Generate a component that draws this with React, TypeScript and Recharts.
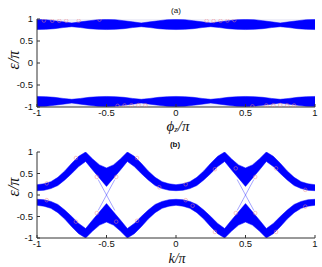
import React from 'react';
import { ComposedChart, Area, Line, Scatter, XAxis, YAxis } from 'recharts';

// ---------- panel (a): phi_z / pi ----------
const kA = [
  -1, -0.9375, -0.875, -0.8125, -0.75, -0.6875, -0.625, -0.5625,
  -0.5, -0.4375, -0.375, -0.3125, -0.25, -0.1875, -0.125, -0.0625,
  0, 0.0625, 0.125, 0.1875, 0.25, 0.3125, 0.375, 0.4375,
  0.5, 0.5625, 0.625, 0.6875, 0.75, 0.8125, 0.875, 0.9375, 1,
];
const aUpperHigh = [
  0.99, 0.985, 0.96, 0.935, 0.91, 0.935, 0.96, 0.985,
  0.99, 0.985, 0.96, 0.935, 0.91, 0.935, 0.96, 0.985,
  0.99, 0.985, 0.96, 0.935, 0.91, 0.935, 0.96, 0.985,
  0.99, 0.985, 0.96, 0.935, 0.91, 0.935, 0.96, 0.985, 0.99,
];
const aUpperLow = [
  0.76, 0.765, 0.78, 0.805, 0.825, 0.805, 0.78, 0.765,
  0.76, 0.765, 0.78, 0.805, 0.825, 0.805, 0.78, 0.765,
  0.76, 0.765, 0.78, 0.805, 0.825, 0.805, 0.78, 0.765,
  0.76, 0.765, 0.78, 0.805, 0.825, 0.805, 0.78, 0.765, 0.76,
];
const aLowerHigh = [
  -0.76, -0.765, -0.78, -0.805, -0.825, -0.805, -0.78, -0.765,
  -0.76, -0.765, -0.78, -0.805, -0.825, -0.805, -0.78, -0.765,
  -0.76, -0.765, -0.78, -0.805, -0.825, -0.805, -0.78, -0.765,
  -0.76, -0.765, -0.78, -0.805, -0.825, -0.805, -0.78, -0.765, -0.76,
];
const aLowerLow = [
  -0.99, -0.985, -0.96, -0.935, -0.91, -0.935, -0.96, -0.985,
  -0.99, -0.985, -0.96, -0.935, -0.91, -0.935, -0.96, -0.985,
  -0.99, -0.985, -0.96, -0.935, -0.91, -0.935, -0.96, -0.985,
  -0.99, -0.985, -0.96, -0.935, -0.91, -0.935, -0.96, -0.985, -0.99,
];
const aCircles = [
  { k: -0.95, e: 0.965 }, { k: -0.89, e: 0.96 }, { k: -0.84, e: 0.96 },
  { k: -0.79, e: 0.96 }, { k: -0.7, e: 0.96 }, { k: -0.55, e: 0.985 },
  { k: 0.22, e: 0.96 }, { k: 0.27, e: 0.955 }, { k: 0.32, e: 0.96 },
  { k: 0.37, e: 0.965 }, { k: 0.42, e: 0.975 },
  { k: -0.42, e: -0.975 }, { k: -0.37, e: -0.965 }, { k: -0.32, e: -0.96 },
  { k: -0.27, e: -0.955 }, { k: -0.22, e: -0.96 }, { k: 0.55, e: -0.985 },
  { k: 0.65, e: -0.965 }, { k: 0.7, e: -0.96 }, { k: 0.75, e: -0.955 },
  { k: 0.8, e: -0.96 }, { k: 0.85, e: -0.965 },
];

// ---------- panel (b): k / pi ----------
const kB = [
  -1, -0.95, -0.9, -0.85, -0.8, -0.75, -0.7, -0.65, -0.6, -0.55,
  -0.5, -0.45, -0.4, -0.35, -0.3, -0.25, -0.2, -0.15, -0.1, -0.05,
  0, 0.05, 0.1, 0.15, 0.2, 0.25, 0.3, 0.35, 0.4, 0.45,
  0.5, 0.55, 0.6, 0.65, 0.7, 0.75, 0.8, 0.85, 0.9, 0.95, 1,
];
const bUpperLow = [
  0.1, 0.11, 0.15, 0.22, 0.35, 0.5, 0.66, 0.78, 0.58, 0.39,
  0.2, 0.39, 0.58, 0.78, 0.66, 0.5, 0.35, 0.22, 0.15, 0.11,
  0.1, 0.11, 0.15, 0.22, 0.35, 0.5, 0.66, 0.78, 0.58, 0.39,
  0.2, 0.39, 0.58, 0.78, 0.66, 0.5, 0.35, 0.22, 0.15, 0.11, 0.1,
];
const bUpperHigh = [
  0.24, 0.26, 0.31, 0.41, 0.56, 0.74, 0.9, 1.0, 0.84, 0.7,
  0.63, 0.7, 0.84, 1.0, 0.9, 0.74, 0.56, 0.41, 0.31, 0.26,
  0.24, 0.26, 0.31, 0.41, 0.56, 0.74, 0.9, 1.0, 0.84, 0.7,
  0.63, 0.7, 0.84, 1.0, 0.9, 0.74, 0.56, 0.41, 0.31, 0.26, 0.24,
];
const bLowerHigh = [
  -0.1, -0.11, -0.15, -0.22, -0.35, -0.5, -0.66, -0.78, -0.58, -0.39,
  -0.2, -0.39, -0.58, -0.78, -0.66, -0.5, -0.35, -0.22, -0.15, -0.11,
  -0.1, -0.11, -0.15, -0.22, -0.35, -0.5, -0.66, -0.78, -0.58, -0.39,
  -0.2, -0.39, -0.58, -0.78, -0.66, -0.5, -0.35, -0.22, -0.15, -0.11, -0.1,
];
const bLowerLow = [
  -0.24, -0.26, -0.31, -0.41, -0.56, -0.74, -0.9, -1.0, -0.84, -0.7,
  -0.63, -0.7, -0.84, -1.0, -0.9, -0.74, -0.56, -0.41, -0.31, -0.26,
  -0.24, -0.26, -0.31, -0.41, -0.56, -0.74, -0.9, -1.0, -0.84, -0.7,
  -0.63, -0.7, -0.84, -1.0, -0.9, -0.74, -0.56, -0.41, -0.31, -0.26, -0.24,
];
const edgeA = [{ k: -0.56, e: 0.36 }, { k: -0.44, e: -0.36 }];
const edgeB = [{ k: -0.56, e: -0.36 }, { k: -0.44, e: 0.36 }];
const edgeC = [{ k: 0.44, e: 0.36 }, { k: 0.56, e: -0.36 }];
const edgeD = [{ k: 0.44, e: -0.36 }, { k: 0.56, e: 0.36 }];
const bCircles = [
  { k: -0.93, e: 0.27 }, { k: -0.72, e: 0.86 }, { k: -0.57, e: 0.42 },
  { k: -0.43, e: 0.42 }, { k: -0.28, e: 0.86 }, { k: -0.12, e: 0.18 },
  { k: 0.07, e: 0.25 }, { k: 0.28, e: 0.6 }, { k: 0.43, e: 0.62 },
  { k: 0.57, e: 0.42 }, { k: 0.72, e: 0.62 }, { k: 0.93, e: 0.12 },
  { k: -0.93, e: -0.12 }, { k: -0.72, e: -0.62 }, { k: -0.57, e: -0.42 },
  { k: -0.43, e: -0.62 }, { k: -0.28, e: -0.6 }, { k: 0.07, e: -0.12 },
  { k: 0.12, e: -0.25 }, { k: 0.28, e: -0.86 }, { k: 0.43, e: -0.42 },
  { k: 0.57, e: -0.42 }, { k: 0.72, e: -0.86 }, { k: 0.93, e: -0.27 },
];

const xTicks = [-1, -0.5, 0, 0.5, 1];
const yTicks = [-1, -0.5, 0, 0.5, 1];

const tableA = kA.map((k, i) => ({
  k,
  up: [aUpperLow[i], aUpperHigh[i]],
  dn: [aLowerLow[i], aLowerHigh[i]],
  hazeUp: [aUpperHigh[i], 1],
  hazeDn: [-1, aLowerLow[i]],
}));
const tableB = kB.map((k, i) => ({
  k,
  up: [bUpperLow[i], bUpperHigh[i]],
  dn: [bLowerLow[i], bLowerHigh[i]],
}));

const AX = '#333';
const tickStyle = { fontSize: 9.5, fill: '#111', fontFamily: 'Liberation Sans, Arial, sans-serif' };
const BLUE = '#0000ff';

const circleShape = (p: any) => (
  <circle cx={p.cx} cy={p.cy} r={1.8} fill="none" stroke="#f28a8a" strokeWidth={0.6} opacity={0.8} />
);

function Frame(xH: number) {
  return [
    <XAxis key="xb" xAxisId="b" dataKey="k" type="number" domain={[-1, 1]} ticks={xTicks} interval={0}
      allowDataOverflow tickSize={-3} tickMargin={5} height={xH} stroke={AX} tick={tickStyle} />,
    <XAxis key="xt" xAxisId="t" orientation="top" type="number" domain={[-1, 1]} ticks={xTicks} interval={0}
      allowDataOverflow tickSize={-3} height={0} stroke={AX} tick={false} />,
    <YAxis key="yl" yAxisId="l" type="number" domain={[-1, 1]} ticks={yTicks} interval={0}
      allowDataOverflow tickSize={-3} tickMargin={7} width={30} stroke={AX} tick={tickStyle} />,
    <YAxis key="yr" yAxisId="r" orientation="right" type="number" domain={[-1, 1]} ticks={yTicks} interval={0}
      allowDataOverflow tickSize={-3} width={0} stroke={AX} tick={false} />,
  ];
}

const serif = 'Liberation Serif, Times New Roman, serif';

export default function App() {
  return (
    <div style={{ position: 'absolute', left: 0, top: 0, width: 322, height: 267, background: '#fff' }}>
      <div style={{ position: 'absolute', left: 0, top: 0 }}>
        <ComposedChart width={322} height={130} data={tableA} margin={{ top: 19, right: 7, left: 7, bottom: 0 }}>
          {Frame(23)}
          <Area xAxisId="b" yAxisId="l" dataKey="hazeUp" type="linear" fill="#e4e4f4" stroke="none" isAnimationActive={false} />
          <Area xAxisId="b" yAxisId="l" dataKey="hazeDn" type="linear" fill="#e4e4f4" stroke="none" isAnimationActive={false} />
          <Area xAxisId="b" yAxisId="l" dataKey="up" type="linear" fill={BLUE} fillOpacity={1} stroke={BLUE} strokeWidth={0.5} isAnimationActive={false} />
          <Area xAxisId="b" yAxisId="l" dataKey="dn" type="linear" fill={BLUE} fillOpacity={1} stroke={BLUE} strokeWidth={0.5} isAnimationActive={false} />
          <Scatter xAxisId="b" yAxisId="l" data={aCircles} dataKey="e" shape={circleShape} isAnimationActive={false} />
        </ComposedChart>
      </div>
      <div style={{ position: 'absolute', left: 0, top: 130 }}>
        <ComposedChart width={322} height={137} data={tableB} margin={{ top: 22, right: 7, left: 7, bottom: 0 }}>
          {Frame(29)}
          <Area xAxisId="b" yAxisId="l" dataKey="up" type="linear" fill={BLUE} fillOpacity={1} stroke={BLUE} strokeWidth={0.5} isAnimationActive={false} />
          <Area xAxisId="b" yAxisId="l" dataKey="dn" type="linear" fill={BLUE} fillOpacity={1} stroke={BLUE} strokeWidth={0.5} isAnimationActive={false} />
          <Line xAxisId="b" yAxisId="l" data={edgeA} dataKey="e" stroke={BLUE} strokeWidth={0.6} strokeOpacity={0.6} dot={false} isAnimationActive={false} />
          <Line xAxisId="b" yAxisId="l" data={edgeB} dataKey="e" stroke={BLUE} strokeWidth={0.6} strokeOpacity={0.6} dot={false} isAnimationActive={false} />
          <Line xAxisId="b" yAxisId="l" data={edgeC} dataKey="e" stroke={BLUE} strokeWidth={0.6} strokeOpacity={0.6} dot={false} isAnimationActive={false} />
          <Line xAxisId="b" yAxisId="l" data={edgeD} dataKey="e" stroke={BLUE} strokeWidth={0.6} strokeOpacity={0.6} dot={false} isAnimationActive={false} />
          <Scatter xAxisId="b" yAxisId="l" data={bCircles} dataKey="e" shape={circleShape} isAnimationActive={false} />
        </ComposedChart>
      </div>
      <svg width={322} height={267} style={{ position: 'absolute', left: 0, top: 0, pointerEvents: 'none' }}>
        <text x={176} y={10} fontSize={8} fontFamily="Liberation Sans, Arial, sans-serif" textAnchor="middle" dominantBaseline="central" fill="#111">(a)</text>
        <text x={175} y={144} fontSize={8} fontWeight="bold" fontFamily="Liberation Sans, Arial, sans-serif" textAnchor="middle" dominantBaseline="central" fill="#111">(b)</text>
        <text x={13} y={60} fontSize={16} fontFamily={serif} fontStyle="italic" textAnchor="middle" dominantBaseline="central" transform="rotate(-90 13 60)" fill="#111">ε/π</text>
        <text x={13} y={187} fontSize={16} fontFamily={serif} fontStyle="italic" textAnchor="middle" dominantBaseline="central" transform="rotate(-90 13 187)" fill="#111">ε/π</text>
        <text x={178} y={126} fontSize={15} fontFamily={serif} fontStyle="italic" textAnchor="middle" dominantBaseline="central" fill="#111">
          ϕ<tspan fontSize={9} dy={3}>z</tspan><tspan dy={-3}>/π</tspan>
        </text>
        <text x={177} y={258} fontSize={14} fontFamily={serif} fontStyle="italic" textAnchor="middle" dominantBaseline="central" fill="#111">k/π</text>
      </svg>
    </div>
  );
}
